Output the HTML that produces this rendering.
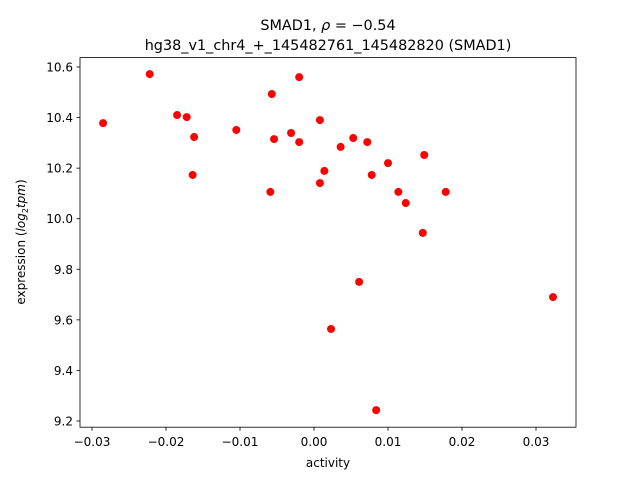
<!DOCTYPE html>
<html><head><meta charset="utf-8"><style>
body{margin:0;background:#fff;}
svg{display:block;font-family:"DejaVu Sans","Liberation Sans",sans-serif;}
</style></head><body>
<svg id="chart" width="640" height="480">
<text x="328" y="30" text-anchor="middle" font-size="14.4">SMAD1, <tspan font-style="italic">ρ</tspan> = −0.54</text>
<text x="328" y="50" text-anchor="middle" font-size="14.4">hg38_v1_chr4_+_145482761_145482820 (SMAD1)</text>
<g id="marks"></g>
<rect x="80" y="57.6" width="496" height="369.6" fill="none" stroke="#000" stroke-width="0.8"/>
<g id="xticks"></g>
<g id="yticks"></g>
<text x="328" y="467" text-anchor="middle" font-size="12">activity</text>
<text transform="translate(25,242) rotate(-90)" text-anchor="middle" font-size="12">expression (<tspan font-style="italic">log</tspan><tspan font-size="8" dy="3">2</tspan><tspan dy="-3" font-style="italic">tpm</tspan>)</text>
</svg>
<script>
const activity=[-0.0285,-0.0222,-0.0185,-0.0172,-0.0162,-0.0164,-0.0105,-0.0057,-0.0054,-0.0059,-0.0031,-0.0020,-0.0020,0.0008,0.0008,0.0014,0.0036,0.0053,0.0072,0.0078,0.0100,0.0149,0.0114,0.0124,0.0147,0.0178,0.0061,0.0023,0.0084,0.0323];
const expression=[10.378,10.572,10.410,10.402,10.323,10.173,10.351,10.493,10.315,10.106,10.339,10.560,10.303,10.390,10.141,10.189,10.284,10.319,10.303,10.173,10.220,10.252,10.106,10.062,9.944,10.106,9.750,9.564,9.243,9.690];
const xTicks=[-0.03,-0.02,-0.01,0.00,0.01,0.02,0.03];
const xTickLabels=["−0.03","−0.02","−0.01","0.00","0.01","0.02","0.03"];
const yTicks=[9.2,9.4,9.6,9.8,10.0,10.2,10.4,10.6];
const yTickLabels=["9.2","9.4","9.6","9.8","10.0","10.2","10.4","10.6"];
const NS="http://www.w3.org/2000/svg";
function xs(v){return 314+v*7400;}
function ys(v){return 67+(10.6-v)*252.86;}
const marks=document.getElementById('marks');
for(let i=0;i<activity.length;i++){
  const c=document.createElementNS(NS,'circle');
  c.setAttribute('cx',xs(activity[i]));c.setAttribute('cy',ys(expression[i]));
  c.setAttribute('r',4);c.setAttribute('fill','#ff0000');
  
  
  marks.appendChild(c);
}
const xg=document.getElementById('xticks');
xTicks.forEach((t,i)=>{
  const x=xs(t);
  const l=document.createElementNS(NS,'line');
  l.setAttribute('x1',x);l.setAttribute('x2',x);l.setAttribute('y1',427.2);l.setAttribute('y2',430.7);l.setAttribute('stroke','#000');l.setAttribute('stroke-width','0.8');
  
  
  xg.appendChild(l);
  const tx=document.createElementNS(NS,'text');
  tx.setAttribute('x',x);tx.setAttribute('y',446);tx.setAttribute('text-anchor','middle');tx.setAttribute('font-size','12');
  tx.textContent=xTickLabels[i];
  
  
  xg.appendChild(tx);
});
const yg=document.getElementById('yticks');
yTicks.forEach((t,i)=>{
  const y=ys(t);
  const l=document.createElementNS(NS,'line');
  l.setAttribute('x1',76.5);l.setAttribute('x2',80);l.setAttribute('y1',y);l.setAttribute('y2',y);l.setAttribute('stroke','#000');l.setAttribute('stroke-width','0.8');
  
  
  yg.appendChild(l);
  const tx=document.createElementNS(NS,'text');
  tx.setAttribute('x',73);tx.setAttribute('y',y+4.5);tx.setAttribute('text-anchor','end');tx.setAttribute('font-size','12');
  tx.textContent=yTickLabels[i];
  
  
  yg.appendChild(tx);
});
</script>
</body></html>
